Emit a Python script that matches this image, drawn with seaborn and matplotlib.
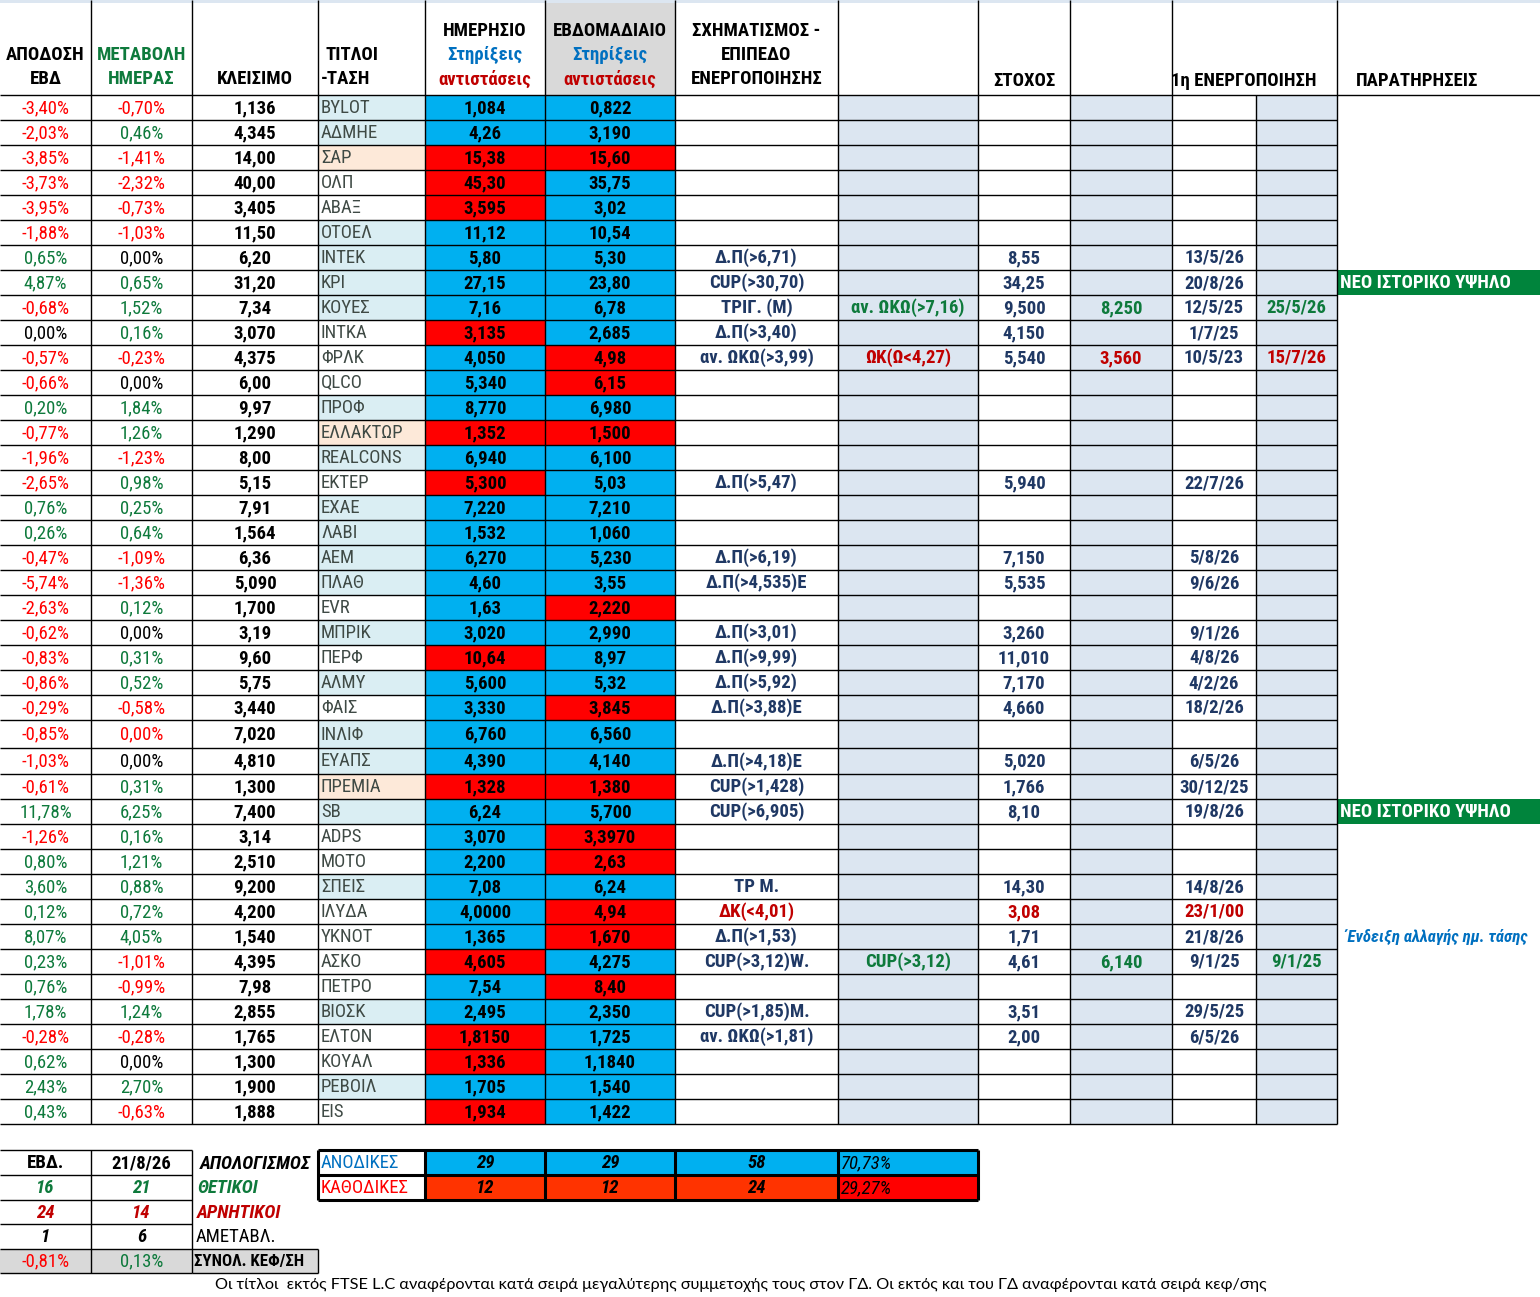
import numpy as np
import pandas as pd
import seaborn as sns
import matplotlib
matplotlib.use("Agg")
import matplotlib.pyplot as plt
from matplotlib import font_manager as fm

# ---------------------------------------------------------------- data
tickers = ["BYLOT", "ΑΔΜΗΕ", "ΣΑΡ", "ΟΛΠ", "ΑΒΑΞ", "ΟΤΟΕΛ", "INTEK", "KPI", "ΚΟΥΕΣ", "INTKA",
           "ΦΡΛΚ", "QLCO", "ΠΡΟΦ", "ΕΛΛΑΚΤΩΡ", "REALCONS", "ΕΚΤΕΡ", "ΕΧΑΕ", "ΛΑΒΙ", "ΑΕΜ", "ΠΛΑΘ",
           "EVR", "ΜΠΡΙΚ", "ΠΕΡΦ", "ΑΛΜΥ", "ΦΑΙΣ", "ΙΝΛΙΦ", "ΕΥΑΠΣ", "ΠΡΕΜΙΑ", "SB", "ADPS",
           "ΜΟΤΟ", "ΣΠΕΙΣ", "ΙΛΥΔΑ", "ΥΚΝΟΤ", "ΑΣΚΟ", "ΠΕΤΡΟ", "ΒΙΟΣΚ", "ΕΛΤΟΝ", "ΚΟΥΑΛ", "ΡΕΒΟΙΛ", "EIS"]

weekly_pct = [-3.40, -2.03, -3.85, -3.73, -3.95, -1.88, 0.65, 4.87, -0.68, 0.00,
              -0.57, -0.66, 0.20, -0.77, -1.96, -2.65, 0.76, 0.26, -0.47, -5.74,
              -2.63, -0.62, -0.83, -0.86, -0.29, -0.85, -1.03, -0.61, 11.78, -1.26,
              0.80, 3.60, 0.12, 8.07, 0.23, 0.76, 1.78, -0.28, 0.62, 2.43, 0.43]

daily_pct = [-0.70, 0.46, -1.41, -2.32, -0.73, -1.03, 0.00, 0.65, 1.52, 0.16,
             -0.23, 0.00, 1.84, 1.26, -1.23, 0.98, 0.25, 0.64, -1.09, -1.36,
             0.12, 0.00, 0.31, 0.52, -0.58, 0.00, 0.00, 0.31, 6.25, 0.16,
             1.21, 0.88, 0.72, 4.05, -1.01, -0.99, 1.24, -0.28, 0.00, 2.70, -0.63]

close = ["1,136", "4,345", "14,00", "40,00", "3,405", "11,50", "6,20", "31,20", "7,34", "3,070",
         "4,375", "6,00", "9,97", "1,290", "8,00", "5,15", "7,91", "1,564", "6,36", "5,090",
         "1,700", "3,19", "9,60", "5,75", "3,440", "7,020", "4,810", "1,300", "7,400", "3,14",
         "2,510", "9,200", "4,200", "1,540", "4,395", "7,98", "2,855", "1,765", "1,300", "1,900", "1,888"]

# ticker group: L = light blue, P = peach, W = white
ticker_group = ["L", "L", "P", "W", "W", "L", "L", "L", "L", "W",
                "W", "W", "L", "P", "L", "W", "L", "L", "L", "L",
                "W", "L", "W", "L", "W", "L", "L", "P", "L", "W",
                "W", "L", "W", "W", "W", "W", "L", "W", "W", "L", "W"]

daily_level = ["1,084", "4,26", "15,38", "45,30", "3,595", "11,12", "5,80", "27,15", "7,16", "3,135",
               "4,050", "5,340", "8,770", "1,352", "6,940", "5,300", "7,220", "1,532", "6,270", "4,60",
               "1,63", "3,020", "10,64", "5,600", "3,330", "6,760", "4,390", "1,328", "6,24", "3,070",
               "2,200", "7,08", "4,0000", "1,365", "4,605", "7,54", "2,495", "1,8150", "1,336", "1,705", "1,934"]
# S = support (up), R = resistance (down)
daily_state = ["S", "S", "R", "R", "R", "S", "S", "S", "S", "R",
               "S", "S", "S", "R", "S", "R", "S", "S", "S", "S",
               "S", "S", "R", "S", "S", "S", "S", "R", "S", "S",
               "S", "S", "S", "S", "R", "S", "S", "R", "R", "S", "R"]

weekly_level = ["0,822", "3,190", "15,60", "35,75", "3,02", "10,54", "5,30", "23,80", "6,78", "2,685",
                "4,98", "6,15", "6,980", "1,500", "6,100", "5,03", "7,210", "1,060", "5,230", "3,55",
                "2,220", "2,990", "8,97", "5,32", "3,845", "6,560", "4,140", "1,380", "5,700", "3,3970",
                "2,63", "6,24", "4,94", "1,670", "4,275", "8,40", "2,350", "1,725", "1,1840", "1,540", "1,422"]
weekly_state = ["S", "S", "R", "S", "S", "S", "S", "S", "S", "S",
                "R", "R", "S", "R", "S", "S", "S", "S", "S", "S",
                "R", "S", "S", "S", "R", "S", "S", "R", "S", "R",
                "R", "S", "R", "R", "S", "R", "S", "S", "S", "S", "S"]

# signals: ticker -> (pattern, alt pattern, target, alt target, first activation, alt activation)
signals = {
    "INTEK": ("Δ.Π(>6,71)", "", "8,55", "", "13/5/26", ""),
    "KPI": ("CUP(>30,70)", "", "34,25", "", "20/8/26", ""),
    "ΚΟΥΕΣ": ("ΤΡΙΓ. (Μ)", "αν. ΩΚΩ(>7,16)", "9,500", "8,250", "12/5/25", "25/5/26"),
    "INTKA": ("Δ.Π(>3,40)", "", "4,150", "", "1/7/25", ""),
    "ΦΡΛΚ": ("αν. ΩΚΩ(>3,99)", "ΩΚ(Ω<4,27)", "5,540", "3,560", "10/5/23", "15/7/26"),
    "ΕΚΤΕΡ": ("Δ.Π(>5,47)", "", "5,940", "", "22/7/26", ""),
    "ΑΕΜ": ("Δ.Π(>6,19)", "", "7,150", "", "5/8/26", ""),
    "ΠΛΑΘ": ("Δ.Π(>4,535)Ε", "", "5,535", "", "9/6/26", ""),
    "ΜΠΡΙΚ": ("Δ.Π(>3,01)", "", "3,260", "", "9/1/26", ""),
    "ΠΕΡΦ": ("Δ.Π(>9,99)", "", "11,010", "", "4/8/26", ""),
    "ΑΛΜΥ": ("Δ.Π(>5,92)", "", "7,170", "", "4/2/26", ""),
    "ΦΑΙΣ": ("Δ.Π(>3,88)Ε", "", "4,660", "", "18/2/26", ""),
    "ΕΥΑΠΣ": ("Δ.Π(>4,18)Ε", "", "5,020", "", "6/5/26", ""),
    "ΠΡΕΜΙΑ": ("CUP(>1,428)", "", "1,766", "", "30/12/25", ""),
    "SB": ("CUP(>6,905)", "", "8,10", "", "19/8/26", ""),
    "ΣΠΕΙΣ": ("ΤΡ Μ.", "", "14,30", "", "14/8/26", ""),
    "ΙΛΥΔΑ": ("ΔΚ(<4,01)", "", "3,08", "", "23/1/00", ""),
    "ΥΚΝΟΤ": ("Δ.Π(>1,53)", "", "1,71", "", "21/8/26", ""),
    "ΑΣΚΟ": ("CUP(>3,12)W.", "CUP(>3,12)", "4,61", "6,140", "9/1/25", "9/1/25"),
    "ΒΙΟΣΚ": ("CUP(>1,85)Μ.", "", "3,51", "", "29/5/25", ""),
    "ΕΛΤΟΝ": ("αν. ΩΚΩ(>1,81)", "", "2,00", "", "6/5/26", ""),
}
remarks = {"KPI": "ΝΕΟ ΙΣΤΟΡΙΚΟ ΥΨΗΛΟ", "SB": "ΝΕΟ ΙΣΤΟΡΙΚΟ ΥΨΗΛΟ",
           "ΥΚΝΟΤ": "΄Ενδειξη αλλαγής ημ. τάσης"}
bearish_signal = ["ΙΛΥΔΑ"]
alt_bull = ["ΚΟΥΕΣ", "ΑΣΚΟ"]
alt_bear = ["ΦΡΛΚ"]
daily_zero_red = ["ΙΝΛΙΦ"]

summary_dates = ["ΕΒΔ.", "21/8/26"]
summary_pos = [16, 21]
summary_neg = [24, 14]
summary_flat = [1, 6]
summary_cap = [-0.81, 0.13]
up_counts = [29, 29, 58]
down_counts = [12, 12, 24]
up_share = "70,73%"
down_share = "29,27%"
footnote = ("Οι τίτλοι  εκτός FTSE L.C αναφέρονται κατά σειρά μεγαλύτερης συμμετοχής τους στον ΓΔ. "
            "Οι εκτός και του ΓΔ αναφέρονται κατά σειρά κεφ/σης")

# ---------------------------------------------------------------- style
sns.set_theme(style="white")
flist = fm.fontManager.ttflist
names = {f.name for f in flist}
if "Liberation Sans Narrow" in names:
    NARROW = {"family": "Liberation Sans Narrow"}; SC = 1.0
elif "Roboto Condensed" in names:
    NARROW = {"family": "Roboto Condensed"}; SC = 1.11
elif any(f.name == "DejaVu Sans" and "condensed" in str(f.stretch) for f in flist):
    NARROW = {"family": "DejaVu Sans", "stretch": "condensed"}; SC = 0.86
else:
    NARROW = {"family": "Liberation Sans"}; SC = 0.84
FS = 12.2 * SC

RED = "#FF0000"
GREEN = "#0E7A3C"
DKRED = "#C00000"
BLUE_T = "#0070C0"
NAVY = "#1F3864"
CYAN = "#00B0F0"
PALE = "#DCE6F1"
LBLUE = "#DAEEF3"
PEACH = "#FDE9D9"
GRAY = "#D9D9D9"
DGREEN = "#00843C"

fig = plt.figure(figsize=(15.4, 12.97), dpi=100)
ax = fig.add_axes([0, 0, 1, 1])
ax.set_xlim(0, 1540)
ax.set_ylim(1297, 0)
ax.axis("off")

edges = [0, 91, 192, 318, 425, 545, 675, 838, 978, 1070, 1172, 1256, 1337, 1540]
HEAD = 95
n = len(tickers)
heights = [25.0] * n
heights[tickers.index("ΙΝΛΙΦ")] = 28.0
heights[tickers.index("ΕΥΑΠΣ")] = 26.0
tops = HEAD + np.concatenate([[0], np.cumsum(heights)[:-1]])
mids = tops + np.array(heights) / 2
bottom = HEAD + sum(heights)


def cells(col, colors, rows=None):
    rows = list(range(n) if rows is None else rows)
    ax.bar(np.full(len(rows), edges[col]), np.array(heights)[rows], width=edges[col + 1] - edges[col],
           bottom=tops[rows], align="edge", color=colors, linewidth=0, zorder=1)


def T(x, y, s, color="black", weight="bold", style="normal", ha="center", size=None, **kw):
    props = dict(NARROW)
    props.update(kw)
    ax.text(x, y + 0.5, s, color=color, fontweight=weight, fontstyle=style, ha=ha, va="center",
            fontsize=FS if size is None else size, zorder=5, **props)


def cx(c):
    return (edges[c] + edges[c + 1]) / 2


# header backgrounds
ax.bar([0], [3], width=1540, bottom=[0], align="edge", color=PALE, linewidth=0, zorder=1)
ax.bar([edges[5]], [HEAD - 3], width=edges[6] - edges[5], bottom=[3], align="edge",
       color=GRAY, linewidth=0, zorder=1)

# data backgrounds
grp_col = {"L": LBLUE, "P": PEACH, "W": "white"}
cells(3, [grp_col[g] for g in ticker_group])
cells(4, [CYAN if s == "S" else RED for s in daily_state])
cells(5, [CYAN if s == "S" else RED for s in weekly_state])
for c in (7, 9, 11):
    cells(c, [PALE] * n)
green_rows = [tickers.index(t) for t, r in remarks.items() if r.startswith("ΝΕΟ")]
cells(12, [DGREEN] * len(green_rows), rows=green_rows)

# grid lines
LW = 1.0
ax.hlines(HEAD, 0, 1540, color="black", lw=LW, zorder=3)
ax.hlines(tops[1:], 0, edges[12], color="black", lw=LW, zorder=3)
ax.hlines(bottom, 0, edges[12], color="black", lw=LW, zorder=3)
for e in edges[1:13]:
    y0 = HEAD if e == 1256 else 0
    ax.vlines(e, y0, bottom, color="black", lw=LW, zorder=3)

# header texts
HY = [31, 55, 79]
T(cx(0), HY[1], "ΑΠΟΔΟΣΗ"); T(cx(0), HY[2], "ΕΒΔ")
T(cx(1), HY[1], "ΜΕΤΑΒΟΛΗ", color=GREEN); T(cx(1), HY[2], "ΗΜΕΡΑΣ", color=GREEN)
T(cx(2), HY[2], "ΚΛΕΙΣΙΜΟ")
T(325, HY[1], "ΤΙΤΛΟΙ", ha="left"); T(321, HY[2], "-ΤΑΣΗ", ha="left")
for c, title in ((4, "ΗΜΕΡΗΣΙΟ"), (5, "ΕΒΔΟΜΑΔΙΑΙΟ")):
    T(cx(c), HY[0], title)
    T(cx(c), HY[1], "Στηρίξεις", color=BLUE_T)
    T(cx(c), HY[2], "αντιστάσεις", color=DKRED)
T(cx(6), HY[0], "ΣΧΗΜΑΤΙΣΜΟΣ -")
T(cx(6), HY[1], "ΕΠΙΠΕΔΟ")
T(cx(6), HY[2], "ΕΝΕΡΓΟΠΟΙΗΣΗΣ")
T(cx(8), HY[2] + 1, "ΣΤΟΧΟΣ")
T(1244, HY[2] + 1, "1η ΕΝΕΡΓΟΠΟΙΗΣΗ")
T(1417, HY[2] + 1, "ΠΑΡΑΤΗΡΗΣΕΙΣ")


def pct(v):
    return f"{v:.2f}".replace(".", ",") + "%"


def sign_color(v):
    return RED if v < 0 else (GREEN if v > 0 else "black")


for i, t in enumerate(tickers):
    y = mids[i]
    T(cx(0), y, pct(weekly_pct[i]), color=sign_color(weekly_pct[i]), weight="normal")
    dc = RED if t in daily_zero_red else sign_color(daily_pct[i])
    T(cx(1), y, pct(daily_pct[i]), color=dc, weight="normal")
    T(cx(2), y, close[i])
    T(edges[3] + 3, y, t, color="#3F4A45", weight="normal", ha="left")
    T(cx(4), y, daily_level[i])
    T(cx(5), y, weekly_level[i])
    if t in signals:
        pat, apat, tgt, atgt, d1, d2 = signals[t]
        mc = DKRED if t in bearish_signal else NAVY
        ac = GREEN if t in alt_bull else DKRED
        T(cx(6), y, pat, color=mc)
        T(cx(7), y, apat, color=ac)
        T(cx(8), y, tgt, color=mc)
        T(cx(9), y, atgt, color=ac)
        T(cx(10), y, d1, color=mc)
        T(cx(11), y, d2, color=ac)
    if t in remarks:
        r = remarks[t]
        if r.startswith("ΝΕΟ"):
            T(edges[12] + 3, y, r, color="white", ha="left")
        else:
            T(edges[12] + 5, y, r, color=BLUE_T, style="italic", ha="left", size=FS * 0.9)

# ---------------------------------------------------------------- bottom summary
sy = [1150, 1175, 1200, 1224, 1249, 1273]
smid = [(a + b) / 2 for a, b in zip(sy[:-1], sy[1:])]
ax.bar([0], [sy[5] - sy[4]], width=318, bottom=[sy[4]], align="edge", color=GRAY,
       linewidth=0, zorder=1)
ax.hlines(sy, 0, 192, color="black", lw=LW, zorder=3)
ax.hlines([sy[4], sy[5]], 192, 318, color="black", lw=LW, zorder=3)
ax.vlines([91, 192], sy[0], sy[5], color="black", lw=LW, zorder=3)
ax.vlines([318], sy[4], sy[5], color="black", lw=LW, zorder=3)

for k in range(2):
    x = cx(k)
    T(x, smid[0], summary_dates[k])
    T(x, smid[1], str(summary_pos[k]), color=GREEN, style="italic")
    T(x, smid[2], str(summary_neg[k]), color=DKRED, style="italic")
    T(x, smid[3], str(summary_flat[k]), style="italic")
    T(x, smid[4], pct(summary_cap[k]), color=RED if summary_cap[k] < 0 else GREEN, weight="normal")
T(200, smid[0] + 1, "ΑΠΟΛΟΓΙΣΜΟΣ", style="italic", ha="left")
T(197, smid[1], "ΘΕΤΙΚΟΙ", color=GREEN, style="italic", ha="left")
T(197, smid[2], "ΑΡΝΗΤΙΚΟΙ", color=DKRED, style="italic", ha="left")
T(196, smid[3], "ΑΜΕΤΑΒΛ.", weight="normal", ha="left")
T(194, smid[4], "ΣΥΝΟΛ. ΚΕΦ/ΣΗ", ha="left", size=FS * 0.9)

# up / down box
by = [1150, 1175, 1200]
for r, (label, lcol, fill, cnts, share, sfill) in enumerate(
        [("ΑΝΟΔΙΚΕΣ", BLUE_T, CYAN, up_counts, up_share, CYAN),
         ("ΚΑΘΟΔΙΚΕΣ", RED, "#FF3300", down_counts, down_share, RED)]):
    y0 = by[r]
    ax.bar([edges[c] for c in (4, 5, 6)], [25] * 3, width=[edges[c + 1] - edges[c] for c in (4, 5, 6)],
           bottom=[y0] * 3, align="edge", color=fill, linewidth=0, zorder=1)
    ax.bar([edges[7]], [25], width=edges[8] - edges[7], bottom=[y0], align="edge",
           color=sfill, linewidth=0, zorder=1)
    ym = y0 + 12.5
    T(edges[3] + 3, ym, label, color=lcol, weight="normal", ha="left")
    for c, v in zip((4, 5, 6), cnts):
        T(cx(c), ym, str(v), style="italic")
    T(edges[7] + 3, ym, share, style="italic", weight="normal", ha="left")
ax.hlines(by, edges[3], edges[8], color="black", lw=2.2, zorder=3)
ax.vlines([edges[c] for c in (3, 4, 5, 6, 7, 8)], by[0], by[2], color="black", lw=2.2, zorder=3)

ax.text(215, 1285, footnote, fontsize=11.7, family="Lato", color="black", ha="left", va="center")

fig.savefig("out.png", dpi=100)
